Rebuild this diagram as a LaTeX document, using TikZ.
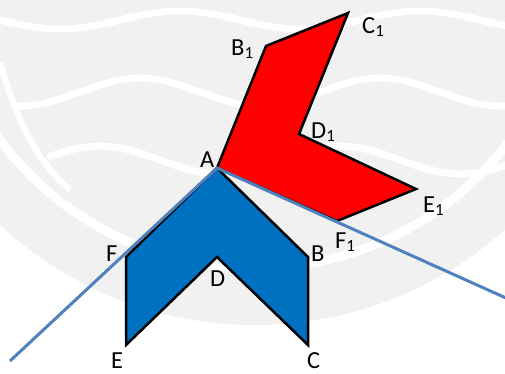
\documentclass[tikz,border=0pt]{standalone}
\usepackage{fontspec}
\setmainfont{Carlito}
\definecolor{wmgray}{RGB}{241,241,241}
\definecolor{shapeblue}{RGB}{0,112,192}
\definecolor{shapered}{RGB}{255,0,0}
\definecolor{lineblue}{RGB}{79,129,189}
\newcommand\subone{\raisebox{-3pt}{\fontsize{17}{20}\selectfont 1}}
\begin{document}
\begin{tikzpicture}[x=1pt,y=-1pt,
  lbl/.style={anchor=base west,inner sep=0pt,font=\fontsize{24.5}{28}\selectfont},
  outline/.style={draw=black,line width=2.5pt,line join=miter},
  axisline/.style={draw=lineblue,line width=3pt},
  wave/.style={draw=white,line width=7pt,line cap=round,line join=round}]
\useasboundingbox (0,0) rectangle (505,373);
\fill[white] (0,0) rectangle (505,373);
% watermark
\begin{scope}
\clip (0,0) rectangle (505,373);
\fill[wmgray] (255,-50) circle (375);
\clip (255,-50) circle (375);
\draw[white,line width=9pt] (255,-50) circle (318);
\draw[wave] plot[domain=0:505,samples=120] (\x,{20+9*sin(1.5*\x)});
\draw[wave] plot[domain=20:505,samples=120] (\x,{92+14*sin(1.5*\x+60)});
\draw[wave] plot[domain=50:505,samples=120] (\x,{160+14*sin(1.5*\x+120)});
\draw[white,line width=6pt] (0,62) .. controls (15,115) and (35,160) .. (70,190);
\end{scope}
% points
\coordinate (A) at (217,168);
\coordinate (B) at (308,257);
\coordinate (C) at (308,345);
\coordinate (D) at (217,257);
\coordinate (E) at (126,345);
\coordinate (F) at (126,257);
\coordinate (B1) at (266,46);
\coordinate (C1) at (348,13);
\coordinate (D1) at (299,134);
\coordinate (E1) at (416,189);
\coordinate (F1) at (337,221);
\coordinate (L) at (10,361);
\coordinate (R) at (506,298);
% shapes
\filldraw[outline,fill=shapered] (A) -- (B1) -- (C1) -- (D1) -- (E1) -- (F1) -- cycle;
\filldraw[outline,fill=shapeblue] (A) -- (B) -- (C) -- (D) -- (E) -- (F) -- cycle;
% line
\draw[axisline] (L) -- (A) -- (R);
% labels
\node[lbl] (lA) at (200,167) {A};
\node[lbl] (lB1) at (231,55) {B\subone};
\node[lbl] (lC1) at (362,33) {C\subone};
\node[lbl] (lD1) at (311,138) {D\subone};
\node[lbl] (lE1) at (423,212) {E\subone};
\node[lbl] (lF1) at (335,248) {F\subone};
\node[lbl] (lF) at (106,261) {F};
\node[lbl] (lB) at (311,261) {B};
\node[lbl] (lD) at (210,286) {D};
\node[lbl] (lE) at (111,368) {E};
\node[lbl] (lC) at (307,368) {C};
\end{tikzpicture}
\end{document}
